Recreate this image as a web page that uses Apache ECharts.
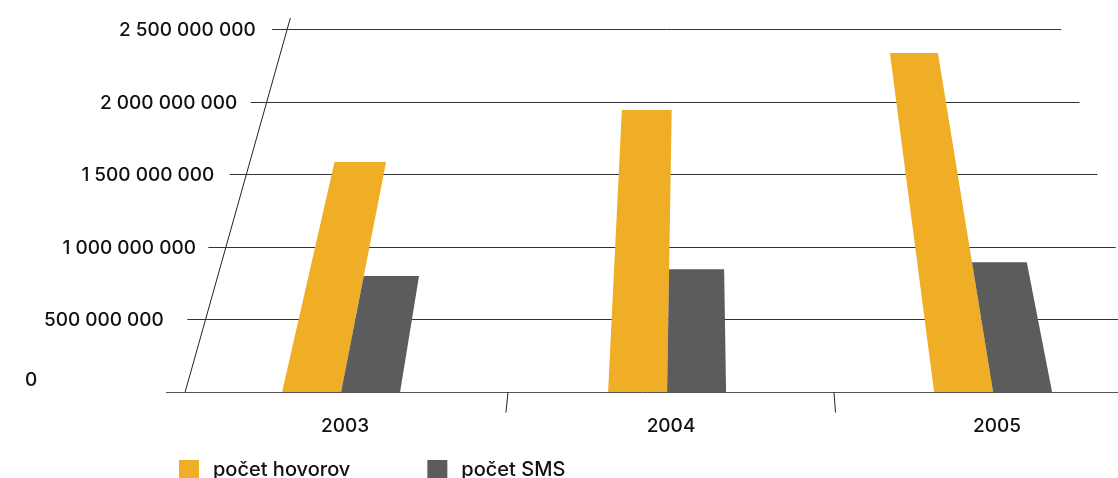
<!DOCTYPE html>
<html>
<head>
<meta charset="utf-8">
<script src="https://cdn.jsdelivr.net/npm/echarts@6/dist/echarts.min.js"></script>
<style>
html,body{margin:0;padding:0;background:#fff;}
#chart{width:1118px;height:478px;}
</style>
</head>
<body>
<div id="chart"></div>
<script>
// ---- data ----
const categories = ['2003', '2004', '2005'];
const seriesNames = ['počet hovorov', 'počet SMS'];
const hovory = [1584000000, 1942000000, 2335000000];
const sms = [799000000, 845000000, 893000000];
const yTicks = [0, 500000000, 1000000000, 1500000000, 2000000000, 2500000000];
const yTickLabels = ['0', '500 000 000', '1 000 000 000', '1 500 000 000', '2 000 000 000', '2 500 000 000'];

// ---- style / perspective constants ----
const FONT = 'Inter, "Liberation Sans", Arial, sans-serif';
const WEIGHT = 500;
const ORANGE = '#F0AE27';
const GRAY = '#5C5C5C';
const VPX = 697;      // vanishing point x
const DEPTH = 1820;   // distance from baseline up to vanishing point

function persp(p, base) {
  const f = (p[1] - (base - DEPTH)) / DEPTH;
  return [VPX + (p[0] - VPX) * f, p[1]];
}

const chart = echarts.init(document.getElementById('chart'), null, {renderer: 'canvas'});

function barRender(side) {
  return function (params, api) {
    const idx = api.value(0);
    const v = api.value(1);
    const top = api.coord([idx, v]);
    const bot = api.coord([idx, 0]);
    const band = api.size([1, 0])[0];
    const bw = band * 0.181;
    const cx = top[0] - band * 0.012;
    const x0 = side === 0 ? cx - bw : cx;
    const x1 = x0 + bw;
    const base = bot[1];
    const pts = [[x0, base], [x1, base], [x1, top[1]], [x0, top[1]]].map(p => persp(p, base));
    return {type: 'polygon', shape: {points: pts}, style: {fill: api.visual('color')}};
  };
}

function gridRender(params, api) {
  const i = params.dataIndex;
  const v = api.value(1);
  const base = Math.round(api.coord([0, 0])[1]) + 0.5;
  const band = api.size([1, 0])[0];
  const left = api.coord([0, 0])[0] - band / 2;
  const right = api.coord([categories.length - 1, 0])[0] + band / 2;
  const y = Math.round(api.coord([0, v])[1]) + 0.5;
  const a = persp([left - 16, y], base);
  const b = persp([right - 8, y], base);
  const children = [{
    type: 'line',
    shape: {x1: a[0], y1: y, x2: b[0], y2: y},
    style: {stroke: v === 0 ? '#555' : '#333', lineWidth: 1}
  }];
  const ly = v === 0 ? y - 12 : y + 1;
  children.push({
    type: 'text',
    style: {
      text: yTickLabels[i],
      x: 25 + (base - y) * 0.2587,
      y: ly,
      align: 'left',
      verticalAlign: 'middle',
      font: WEIGHT + ' 19px ' + FONT,
      fill: '#111'
    }
  });
  if (i === 0) {
    // y axis line
    const topY = api.coord([0, yTicks[yTicks.length - 1]])[1] - 11;
    const p0 = persp([left + 3, base], base);
    const p1 = persp([left + 3, topY], base);
    children.push({
      type: 'line',
      shape: {x1: p0[0], y1: base, x2: p1[0], y2: topY},
      style: {stroke: '#222', lineWidth: 1}
    });
    // category separator ticks
    for (let k = 1; k < categories.length; k++) {
      const tx = api.coord([k, 0])[0] - band / 2;
      const t0 = persp([tx, base], base);
      const t1 = persp([tx, base + 20], base);
      children.push({
        type: 'line',
        shape: {x1: t0[0], y1: base, x2: t1[0], y2: base + 20},
        style: {stroke: '#222', lineWidth: 1}
      });
    }
  }
  return {type: 'group', children: children};
}

const option = {
  animation: false,
  backgroundColor: '#fff',
  grid: {left: 182, width: 978, top: 29, bottom: 86, containLabel: false, outerBoundsMode: 'none'},
  xAxis: {
    type: 'category',
    data: categories,
    axisLine: {show: false},
    axisTick: {show: false},
    splitLine: {show: false},
    axisLabel: {show: true, margin: 25, fontFamily: FONT, fontSize: 19, fontWeight: WEIGHT, color: '#111'}
  },
  yAxis: {
    type: 'value',
    min: 0,
    max: 2500000000,
    interval: 500000000,
    show: false,
    splitLine: {show: false}
  },
  legend: {
    show: true,
    left: 179,
    top: 460,
    padding: 0,
    itemWidth: 38,
    itemHeight: 20,
    itemGap: 77,
    icon: 'path://M0,0H20V20H0Z',
    symbolKeepAspect: true,
    data: seriesNames,
    textStyle: {fontFamily: FONT, fontSize: 20, fontWeight: WEIGHT, color: '#111'}
  },
  series: [
    {
      type: 'custom',
      name: '_grid',
      silent: true,
      z: 1,
      renderItem: gridRender,
      encode: {x: 0, y: 1},
      data: yTicks.map(v => [0, v])
    },
    {
      type: 'custom',
      name: seriesNames[0],
      z: 2,
      itemStyle: {color: ORANGE},
      renderItem: barRender(0),
      encode: {x: 0, y: 1},
      data: hovory.map((v, i) => [i, v])
    },
    {
      type: 'custom',
      name: seriesNames[1],
      z: 2,
      itemStyle: {color: GRAY},
      renderItem: barRender(1),
      encode: {x: 0, y: 1},
      data: sms.map((v, i) => [i, v])
    }
  ]
};
chart.setOption(option);
</script>
</body>
</html>
